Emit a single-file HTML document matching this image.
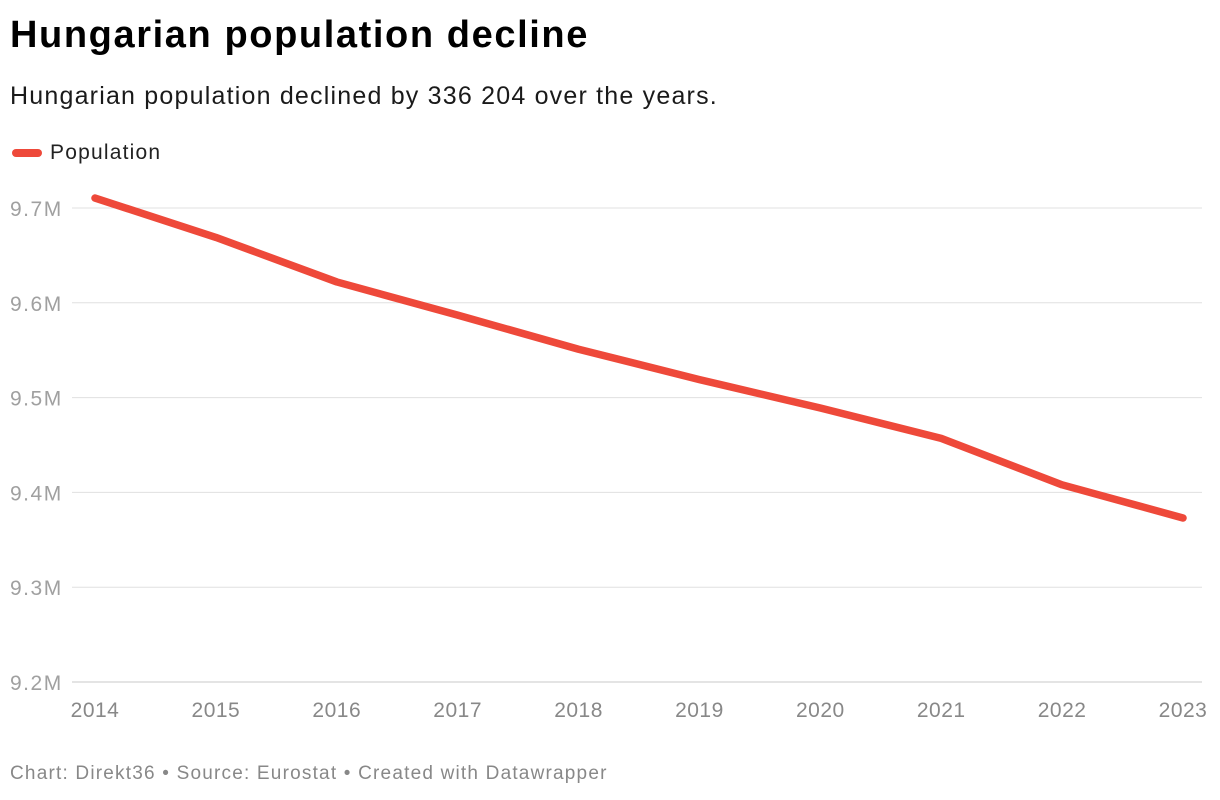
<!DOCTYPE html>
<html><head><meta charset="utf-8"><style>
body{margin:0;width:1220px;height:800px;background:#fff;font-family:"Liberation Sans",sans-serif;overflow:hidden;position:relative}
.t{position:absolute;left:10px;top:14px;font-size:38px;font-weight:bold;color:#000;letter-spacing:1.6px}
.s{position:absolute;left:10px;top:82px;font-size:25px;color:#1a1a1a;letter-spacing:1.2px}
.f{position:absolute;left:10px;top:763px;font-size:19px;color:#888;letter-spacing:1.2px}
.lg{position:absolute;left:12px;top:141px;font-size:21px;color:#222;display:flex;align-items:center;letter-spacing:1.2px}
.lg span.sw{display:inline-block;width:30px;height:8px;border-radius:4px;background:#ee493a;margin-right:8px}
</style></head><body>
<div class="t">Hungarian population decline</div>
<div class="s">Hungarian population declined by 336 204 over the years.</div>
<div class="lg"><span class="sw"></span>Population</div>
<svg id="c" width="1220" height="800" style="position:absolute;left:0;top:0"></svg>
<div class="f">Chart: Direkt36 • Source: Eurostat • Created with Datawrapper</div>
<script>
const years=[2014,2015,2016,2017,2018,2019,2020,2021,2022,2023];
const population=[9.7105,9.669,9.622,9.587,9.551,9.519,9.489,9.457,9.408,9.373];
const yTicks=[9.2,9.3,9.4,9.5,9.6,9.7];
const yTickLabels=["9.2M","9.3M","9.4M","9.5M","9.6M","9.7M"];
const NS="http://www.w3.org/2000/svg";
const svg=document.getElementById('c');
const x=i=>95+(1183-95)*i/(years.length-1);
const y=v=>682-(v-9.2)/0.5*474;
function mk(t,a){const e=document.createElementNS(NS,t);for(const k in a)e.setAttribute(k,a[k]);svg.appendChild(e);return e;}
yTicks.forEach((v,i)=>{
 const g=mk('line',{x1:72,x2:1202,y1:y(v),y2:y(v),stroke:i==0?'#c8c8c8':'#e0e0e0','stroke-width':1});
 
 
 const t=mk('text',{x:10,y:y(v)+8,'font-size':21,fill:'#a0a0a0','letter-spacing':'1.5','font-family':'Liberation Sans, sans-serif'});
 t.textContent=yTickLabels[i];
 
 
});
years.forEach((yr,i)=>{
 const t=mk('text',{x:x(i),y:717,'font-size':21,fill:'#888','text-anchor':'middle','letter-spacing':'0.5','font-family':'Liberation Sans, sans-serif'});
 t.textContent=yr;
 
 
});
const p=mk('path',{d:population.map((v,i)=>(i?'L':'M')+x(i)+','+y(v)).join(''),fill:'none',stroke:'#ee493a','stroke-width':7.5,'stroke-linecap':'round','stroke-linejoin':'round'});


</script>
</body></html>
